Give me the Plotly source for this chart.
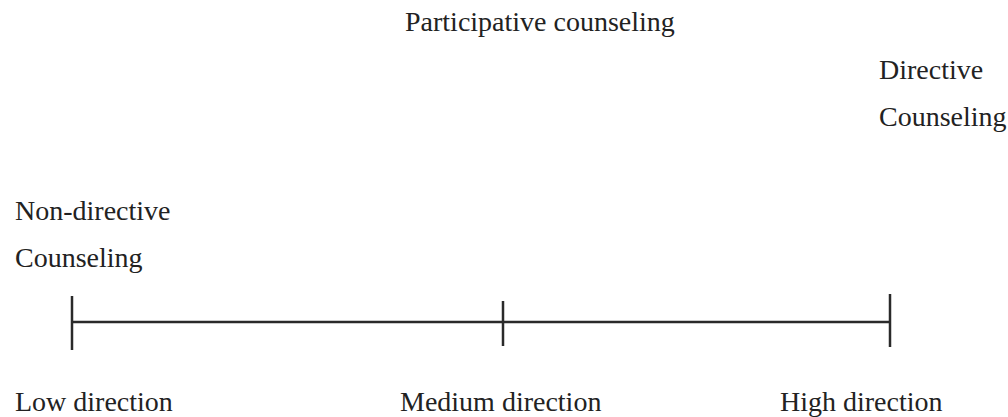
import plotly.graph_objects as go

# Continuum of counseling types
levels = ["Low direction", "Medium direction", "High direction"]
level_pos = [72, 503, 890]          # position of each level on the continuum
tick_top = [296, 301, 294]
tick_bottom = [350, 346, 347]
line_y = 322

# text labels: (text, x-left, baseline)
labels = ["Participative counseling", "Directive", "Counseling", "Non-directive", "Counseling"]
label_x = [403, 877, 877, 13, 13]
label_base = [31, 79, 126, 220, 267]
level_label_x = [13, 398, 778]
level_label_base = 411

FONT = "Liberation Serif, Times New Roman, serif"
SIZE = 28
COLOR = "#2a2a2a"
TXT = "#222222"

fig = go.Figure()

# main axis line
fig.add_trace(go.Scatter(x=[level_pos[0], level_pos[-1]], y=[line_y, line_y], mode="lines",
                         line=dict(color=COLOR, width=2.5), hoverinfo="skip", showlegend=False))
# tick marks
for xp, t, b in zip(level_pos, tick_top, tick_bottom):
    fig.add_trace(go.Scatter(x=[xp, xp], y=[t, b], mode="lines",
                             line=dict(color=COLOR, width=2.5), hoverinfo="skip", showlegend=False))

def center(baseline):
    return baseline - 0.3375 * SIZE

annotations = []
for txt, xl, bl in zip(labels, label_x, label_base):
    annotations.append(dict(text=txt, x=xl, y=center(bl), xref="x", yref="y",
                            xanchor="left", yanchor="middle", showarrow=False,
                            font=dict(family=FONT, size=SIZE, color=TXT)))
for txt, xl in zip(levels, level_label_x):
    annotations.append(dict(text=txt, x=xl, y=center(level_label_base), xref="x", yref="y",
                            xanchor="left", yanchor="middle", showarrow=False,
                            font=dict(family=FONT, size=SIZE, color=TXT)))

fig.update_layout(
    width=1008, height=417,
    margin=dict(l=0, r=0, t=0, b=0),
    paper_bgcolor="white", plot_bgcolor="white",
    xaxis=dict(range=[0, 1008], visible=False, fixedrange=True),
    yaxis=dict(range=[417, 0], visible=False, fixedrange=True),
    annotations=annotations,
    showlegend=False,
)

fig.write_html("out.html", config={"displayModeBar": False},
               post_script="document.body.style.margin='0';document.body.style.overflow='hidden';")
